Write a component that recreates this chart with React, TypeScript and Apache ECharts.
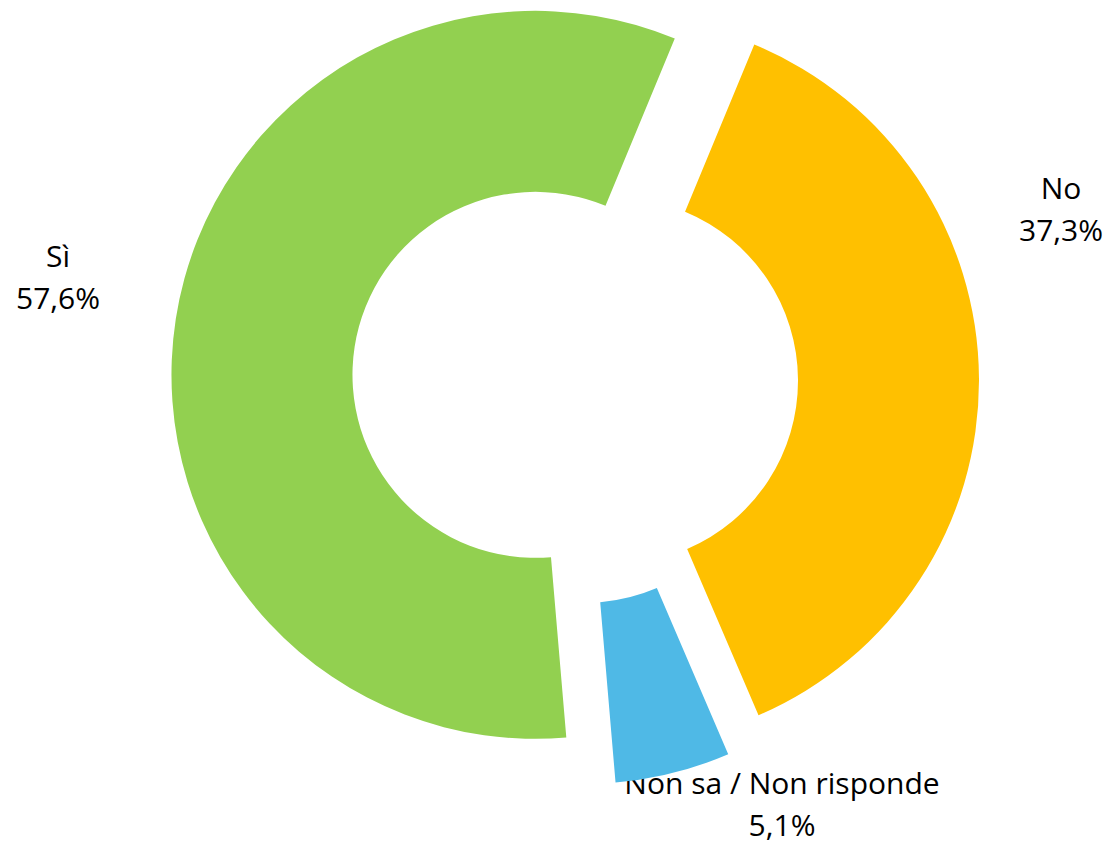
import React, { useEffect, useRef } from "react";
import * as echarts from "echarts";

const categories = ["No", "Non sa / Non risponde", "Sì"];
const values = [37.3, 5.1, 57.6];
const colors = ["#FFC000", "#4FB9E6", "#92D050"];
const labelSpots = [
  [1061, 208],
  [782, 803],
  [58, 276],
];

const fmt = (v: number) => v.toFixed(1).replace(".", ",") + "%";

export default function App() {
  const ref = useRef<HTMLDivElement>(null);
  useEffect(() => {
    if (!ref.current) return;
    const chart = echarts.init(ref.current, undefined, { renderer: "svg" });
    chart.setOption({
      animation: false,
      backgroundColor: "#ffffff",
      graphic: categories.map((c, i) => ({
        type: "text",
        x: labelSpots[i][0],
        y: labelSpots[i][1],
        silent: true,
        style: {
          text: c + "\n" + fmt(values[i]),
          fontFamily: "Open Sans",
          fontSize: 30,
          lineHeight: 42,
          fill: "#000000",
          align: "center",
          verticalAlign: "middle",
        },
      })),
      series: [
        {
          type: "pie",
          center: [575, 381],
          radius: [183, 364],
          startAngle: 67.5,
          clockwise: true,
          selectedMode: "multiple",
          selectedOffset: 40,
          emphasis: { disabled: true },
          labelLine: { show: false },
          label: { show: false },
          data: categories.map((c, i) => ({
            name: c,
            value: values[i],
            selected: true,
            itemStyle: { color: colors[i] },
          })),
        },
      ],
    });
    return () => chart.dispose();
  }, []);
  return (
    <div
      ref={ref}
      style={{ position: "fixed", left: 0, top: 0, width: 1110, height: 843 }}
    />
  );
}
